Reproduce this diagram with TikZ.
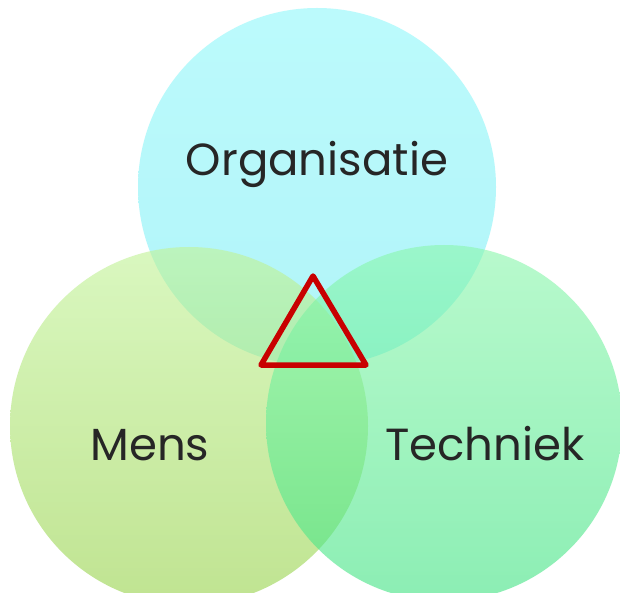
\documentclass[tikz,border=0pt]{standalone}
\usepackage{fontspec}
\setmainfont{Poppins}
\begin{document}
\begin{tikzpicture}[x=1pt,y=-1pt,
  venn/.style={fill opacity=0.6},
  lbl/.style={anchor=base,font=\fontsize{45}{45}\selectfont,text=black!85}]
\useasboundingbox (0,0) rectangle (620,593);
\fill[white] (0,0) rectangle (620,593);
\shade[venn,top color={rgb,255:red,143;green,248;blue,250},bottom color={rgb,255:red,125;green,238;blue,245}] (317,187) circle[radius=179];
\shade[venn,top color={rgb,255:red,193;green,243;blue,150},bottom color={rgb,255:red,150;green,210;blue,72}] (189,426) circle[radius=179];
\shade[venn,top color={rgb,255:red,138;green,247;blue,172},bottom color={rgb,255:red,63;green,227;blue,130}] (444,423) circle[radius=178];
\node[lbl] (org) at (317,176) {Organisatie};
\node[lbl] (mens) at (150,460) {Mens};
\node[lbl] (tech) at (485,460) {Techniek};
\coordinate (ta) at (313,276);
\coordinate (tl) at (261,365);
\coordinate (tr) at (366,365);
\draw[line width=5.5pt,draw={rgb,255:red,200;green,0;blue,0},line join=round] (ta) -- (tl) -- (tr) -- cycle;
\end{tikzpicture}
\end{document}
